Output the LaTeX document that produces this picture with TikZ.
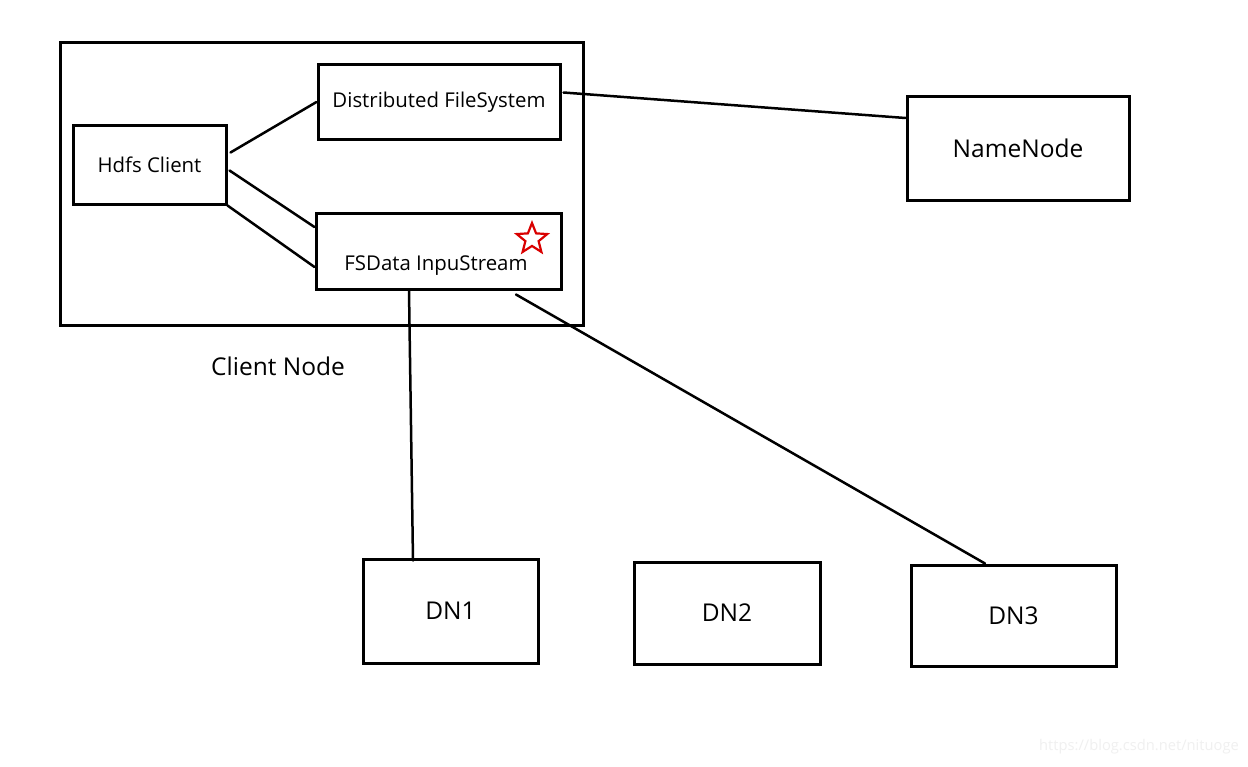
\documentclass[tikz,border=0pt]{standalone}
\usepackage{fontspec}
\setmainfont{Open Sans}
\usetikzlibrary{shapes.geometric,calc}
\begin{document}
\begin{tikzpicture}[x=1pt,y=-1pt,
  box/.style={draw=black,line width=3pt,rectangle,inner sep=0pt,font=\fontsize{20.4}{24}\selectfont},
  bigbox/.style={box,font=\fontsize{24.5}{28}\selectfont},
  conn/.style={line width=2.5pt,line cap=round}]
\useasboundingbox (0,0) rectangle (1248,766);
\fill[white] (0,0) rectangle (1248,766);
\node[box,minimum width=523pt,minimum height=283pt] (client) at (321.5,183.5) {};
\node[box,minimum width=242pt,minimum height=75pt] (dfs) at (439,102) {Distributed FileSystem};
\node[box,minimum width=153pt,minimum height=79pt] (hdfs) at (149.5,164.5) {Hdfs Client};
\node[box,minimum width=245pt,minimum height=76pt] (fsd) at (438.5,251) {};
\node[font=\fontsize{20.4}{24}\selectfont] (fsdtxt) at (436,266) {FSData InpuStream};
\node[star,star points=5,star point ratio=2.3,draw=red!85!black,line width=2.2pt,minimum size=32pt,inner sep=0pt] (star) at (532,239) {};
\node[font=\fontsize{24.5}{28}\selectfont] (clientlbl) at (278,366) {Client Node};
\node[bigbox,minimum width=222pt,minimum height=104pt] (nn) at (1018,148) {NameNode};
\node[bigbox,minimum width=175pt,minimum height=104pt] (dn1) at (450.5,611) {DN1};
\node[bigbox,minimum width=186pt,minimum height=102pt] (dn2) at (727,613) {DN2};
\node[bigbox,minimum width=205pt,minimum height=101pt] (dn3) at (1013.5,615.5) {DN3};
\node[font=\fontsize{14.7}{17}\selectfont,text=black!6] (wm) at (1139,747) {https://blog.csdn.net/nituoge};
\draw[conn] ([xshift=3pt,yshift=12pt]hdfs.east) -- (dfs.west);
\draw[conn] ([xshift=2pt,yshift=-6pt]hdfs.east) -- ([yshift=24pt]fsd.west);
\draw[conn] (hdfs.south east) -- ([yshift=-16pt]fsd.west);
\draw[conn] ([xshift=2pt,yshift=9.5pt]dfs.east) -- ([yshift=30pt]nn.west);
\draw[conn] ([xshift=-29.5pt]fsd.south) -- ([xshift=-37.5pt,yshift=-3pt]dn1.north);
\draw[conn] ([xshift=77.5pt,yshift=-4pt]fsd.south) -- ([xshift=-28.5pt]dn3.north);
\end{tikzpicture}
\end{document}
